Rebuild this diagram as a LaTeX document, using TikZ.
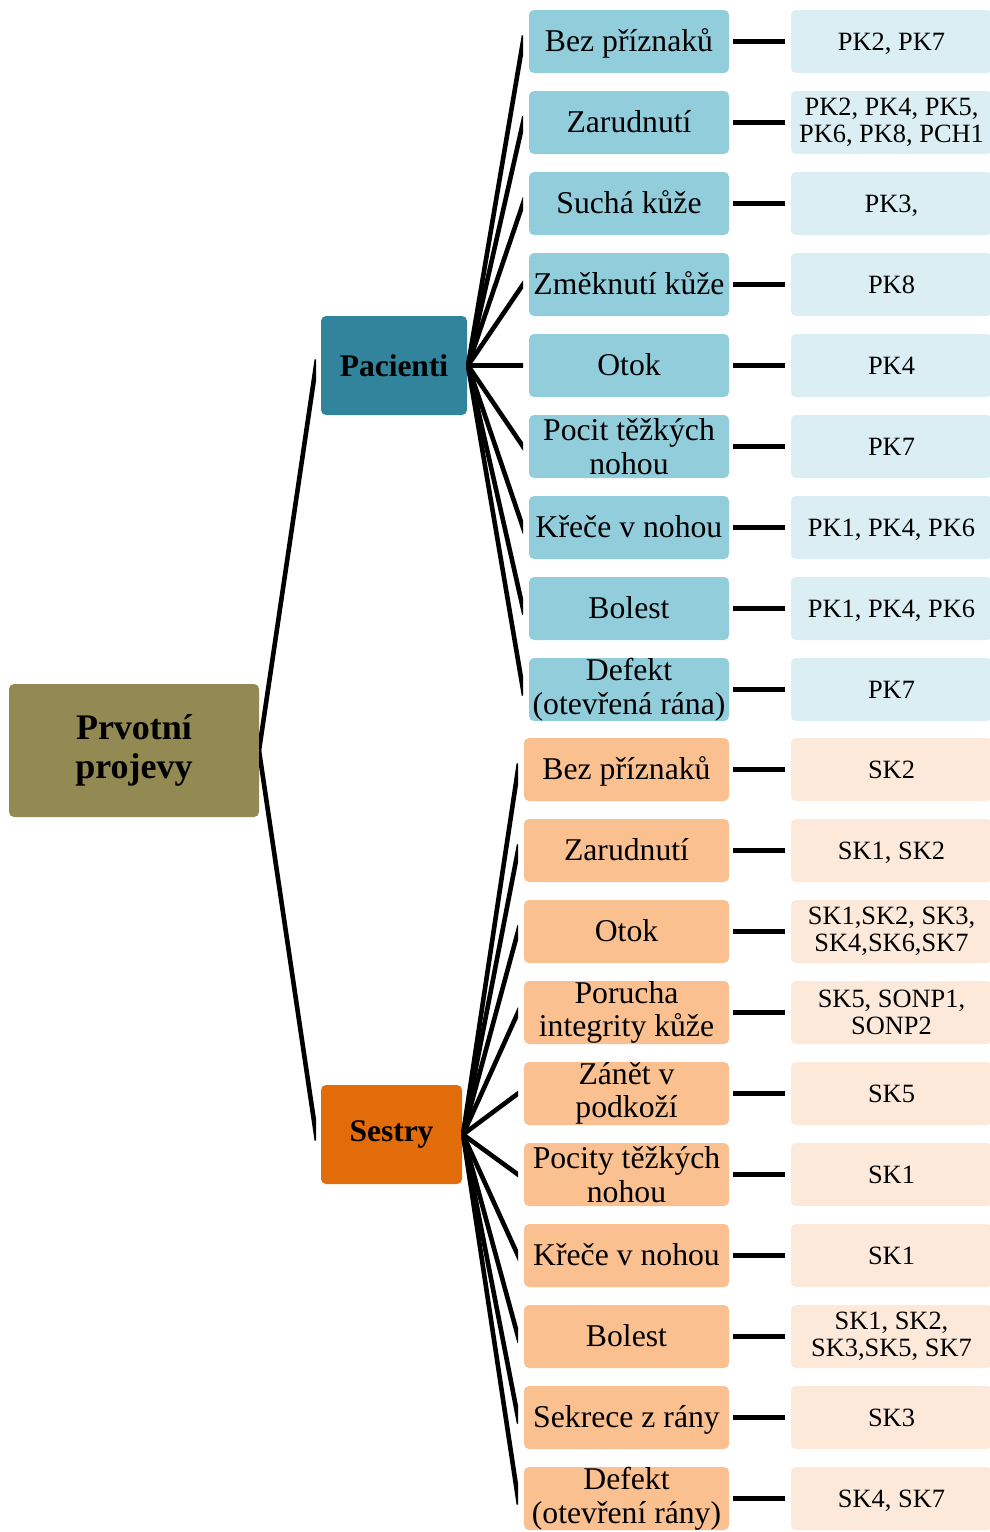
\documentclass[tikz,border=0pt]{standalone}
\usepackage{fontspec}
\setmainfont{Liberation Serif}
\usetikzlibrary{calc}

\definecolor{rootcol}{HTML}{938953}
\definecolor{paccol}{HTML}{31849B}
\definecolor{sescol}{HTML}{E36C0A}
\definecolor{pacchild}{HTML}{92CDDC}
\definecolor{seschild}{HTML}{FAC090}
\definecolor{pacleaf}{HTML}{DAEEF3}
\definecolor{sesleaf}{HTML}{FDE9D9}

\tikzset{
  box/.style={rectangle, rounded corners=5pt, anchor=north west, inner sep=0pt,
    outer sep=0pt, align=center, text=black},
  rootbox/.style={box, fill=rootcol, minimum width=250pt, minimum height=133pt,
    font=\fontsize{36}{38.5}\selectfont\bfseries},
  groupbox/.style={box, minimum height=99pt,
    font=\fontsize{31.5}{33}\selectfont\bfseries},
  pacbox/.style={box, fill=pacchild, minimum width=200pt, minimum height=63pt,
    font=\fontsize{31.7}{33.5}\selectfont},
  sesbox/.style={box, fill=seschild, minimum width=205pt, minimum height=63pt,
    font=\fontsize{31.7}{33.5}\selectfont},
  leafbox/.style={box, minimum width=201pt, minimum height=63pt,
    font=\fontsize{26.4}{27.5}\selectfont},
  % fixed line metrics so single-line labels sit on a common baseline
  one/.style={text height=30pt, text depth=10pt},
  oneleaf/.style={text height=26pt, text depth=7.6pt},
  % branch lines run a little past their end and are cut off by a vertical clip
  branch/.style={draw=black, line width=4.6pt, shorten >=-6pt},
  hline/.style={draw=black, line width=5pt, shorten <=4pt, shorten >=6pt}
}

\begin{document}
\begin{tikzpicture}[x=1pt, y=-1pt]
\useasboundingbox (0,0) rectangle (990,1532);

% root and the two groups
\node[rootbox] (root) at (9,684) {Prvotní\\projevy};
\node[groupbox, fill=paccol, minimum width=146pt] (pac) at (321,316) {Pacienti};
\node[groupbox, fill=sescol, minimum width=141pt] (ses) at (321,1085) {Sestry};

% patients' symptoms
\node[pacbox, one] (p1) at (529,10)  {Bez příznaků};
\node[pacbox, one] (p2) at (529,91)  {Zarudnutí};
\node[pacbox, one] (p3) at (529,172) {Suchá kůže};
\node[pacbox, one] (p4) at (529,253) {Změknutí kůže};
\node[pacbox, one] (p5) at (529,334) {Otok};
\node[pacbox] (p6) at (529,415) {Pocit těžkých\\nohou};
\node[pacbox, one] (p7) at (529,496) {Křeče v nohou};
\node[pacbox, one] (p8) at (529,577) {Bolest};
\node[pacbox] (p9) at (529,658) {Defekt\\(otevřená rána)};

% nurses' observations
\node[sesbox, one] (s1)  at (524,738)  {Bez příznaků};
\node[sesbox, one] (s2)  at (524,819)  {Zarudnutí};
\node[sesbox, one] (s3)  at (524,900)  {Otok};
\node[sesbox] (s4)  at (524,981)  {Porucha\\integrity kůže};
\node[sesbox] (s5)  at (524,1062) {Zánět v\\podkoží};
\node[sesbox] (s6)  at (524,1143) {Pocity těžkých\\nohou};
\node[sesbox, one] (s7)  at (524,1224) {Křeče v nohou};
\node[sesbox, one] (s8)  at (524,1305) {Bolest};
\node[sesbox, one] (s9)  at (524,1386) {Sekrece z rány};
\node[sesbox] (s10) at (524,1467) {Defekt\\(otevření rány)};

% respondent codes
\node[leafbox, oneleaf, fill=pacleaf] (q1) at (791,10)  {PK2, PK7};
\node[leafbox, fill=pacleaf] (q2) at (791,91)  {PK2, PK4, PK5,\\PK6, PK8, PCH1};
\node[leafbox, oneleaf, fill=pacleaf] (q3) at (791,172) {PK3,};
\node[leafbox, oneleaf, fill=pacleaf] (q4) at (791,253) {PK8};
\node[leafbox, oneleaf, fill=pacleaf] (q5) at (791,334) {PK4};
\node[leafbox, oneleaf, fill=pacleaf] (q6) at (791,415) {PK7};
\node[leafbox, oneleaf, fill=pacleaf] (q7) at (791,496) {PK1, PK4, PK6};
\node[leafbox, oneleaf, fill=pacleaf] (q8) at (791,577) {PK1, PK4, PK6};
\node[leafbox, oneleaf, fill=pacleaf] (q9) at (791,658) {PK7};

\node[leafbox, oneleaf, fill=sesleaf] (t1)  at (791,738)  {SK2};
\node[leafbox, oneleaf, fill=sesleaf] (t2)  at (791,819)  {SK1, SK2};
\node[leafbox, fill=sesleaf] (t3)  at (791,900)  {SK1,SK2, SK3,\\SK4,SK6,SK7};
\node[leafbox, fill=sesleaf] (t4)  at (791,981)  {SK5, SONP1,\\SONP2};
\node[leafbox, oneleaf, fill=sesleaf] (t5)  at (791,1062) {SK5};
\node[leafbox, oneleaf, fill=sesleaf] (t6)  at (791,1143) {SK1};
\node[leafbox, oneleaf, fill=sesleaf] (t7)  at (791,1224) {SK1};
\node[leafbox, fill=sesleaf] (t8)  at (791,1305) {SK1, SK2,\\SK3,SK5, SK7};
\node[leafbox, oneleaf, fill=sesleaf] (t9)  at (791,1386) {SK3};
\node[leafbox, oneleaf, fill=sesleaf] (t10) at (791,1467) {SK4, SK7};

% connector end points
\coordinate (rootR) at (root.east);
\coordinate (pacL)  at ([xshift=-5pt]pac.west);
\coordinate (sesL)  at ([xshift=-5pt]ses.west);
\coordinate (pacR)  at ([xshift=1pt]pac.east);
\coordinate (sesR)  at ([xshift=1pt]ses.east);

\begin{scope}
  \clip (259,0) rectangle (316,1532);
  \draw[branch] (rootR) -- (pacL);
  \draw[branch] (rootR) -- (sesL);
\end{scope}

\begin{scope}
  \clip (466,0) rectangle (523,730);
  \foreach \i in {1,...,9}{
    \coordinate (pL\i) at ([xshift=-6pt]p\i.west);
    \draw[branch] (pacR) -- (pL\i);
  }
\end{scope}

\begin{scope}
  \clip (461,730) rectangle (518,1532);
  \foreach \i in {1,...,10}{
    \coordinate (sL\i) at ([xshift=-6pt]s\i.west);
    \draw[branch] (sesR) -- (sL\i);
  }
\end{scope}

\foreach \i in {1,...,9}{\draw[hline] (p\i) -- (q\i);}
\foreach \i in {1,...,10}{\draw[hline] (s\i) -- (t\i);}
\end{tikzpicture}
\end{document}
